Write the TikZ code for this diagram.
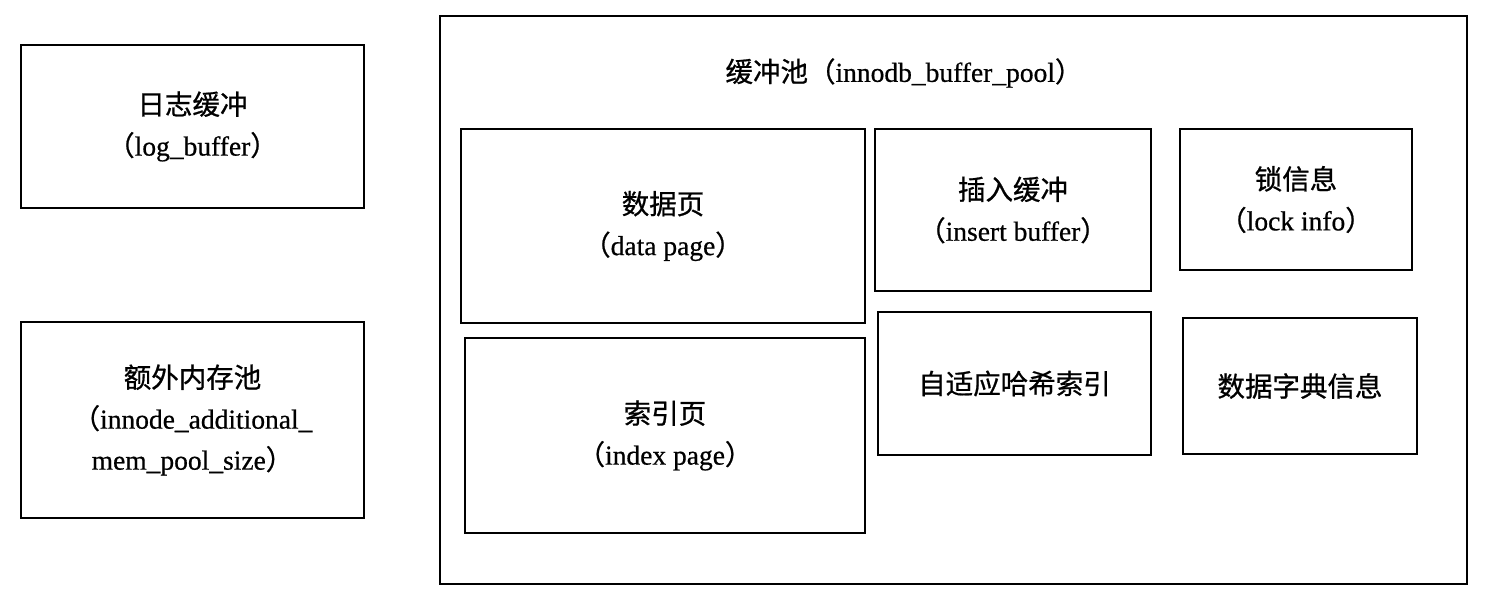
\documentclass[tikz,border=0pt]{standalone}
\usepackage{fontspec}
\setmainfont[FakeBold=0.6,AutoFakeBold=0.6]{Liberation Serif}
\newfontfamily\cjk[FakeBold=0.8]{Noto Sans CJK SC}
\begin{document}
\begin{tikzpicture}[x=1pt,y=-1pt,
  box/.style={draw=black,line width=2.8pt,rectangle,inner sep=0pt,align=center,
    font=\fontsize{27.5}{41}\selectfont},
  label/.style={inner sep=0pt,font=\fontsize{27.5}{41}\selectfont}]
\useasboundingbox (0,0) rectangle (1486,608);
% left boxes
\node[box,minimum width=343pt,minimum height=163pt] (log) at (192.5,126.5)
  {{\cjk 日志缓冲}\\{\cjk （}log\_buffer{\cjk ）}};
\node[box,minimum width=343pt,minimum height=196pt] (addl) at (192.5,420)
  {{\cjk 额外内存池}\\{\cjk （}innode\_additional\_\\mem\_pool\_size{\cjk ）}};
% buffer pool
\node[box,minimum width=1027pt,minimum height=568pt] (pool) at (953.5,300) {};
\node[label] (pooltitle) at (904,73) {{\cjk 缓冲池（}innodb\_buffer\_pool{\cjk ）}};
\node[box,minimum width=404pt,minimum height=194pt] (data) at (663,226)
  {{\cjk 数据页}\\{\cjk （}data page{\cjk ）}};
\node[box,minimum width=400pt,minimum height=195pt] (index) at (665,435.5)
  {{\cjk 索引页}\\{\cjk （}index page{\cjk ）}};
\node[box,minimum width=276pt,minimum height=162pt] (insert) at (1013,210)
  {{\cjk 插入缓冲}\\{\cjk （}insert buffer{\cjk ）}};
\node[box,minimum width=232pt,minimum height=141pt] (lock) at (1296,199.5)
  {{\cjk 锁信息}\\{\cjk （}lock info{\cjk ）}};
\node[box,minimum width=273pt,minimum height=143pt] (hash) at (1014.5,383.5)
  {{\cjk 自适应哈希索引}};
\node[box,minimum width=234pt,minimum height=136pt] (dict) at (1300,386)
  {{\cjk 数据字典信息}};
\end{tikzpicture}
\end{document}
